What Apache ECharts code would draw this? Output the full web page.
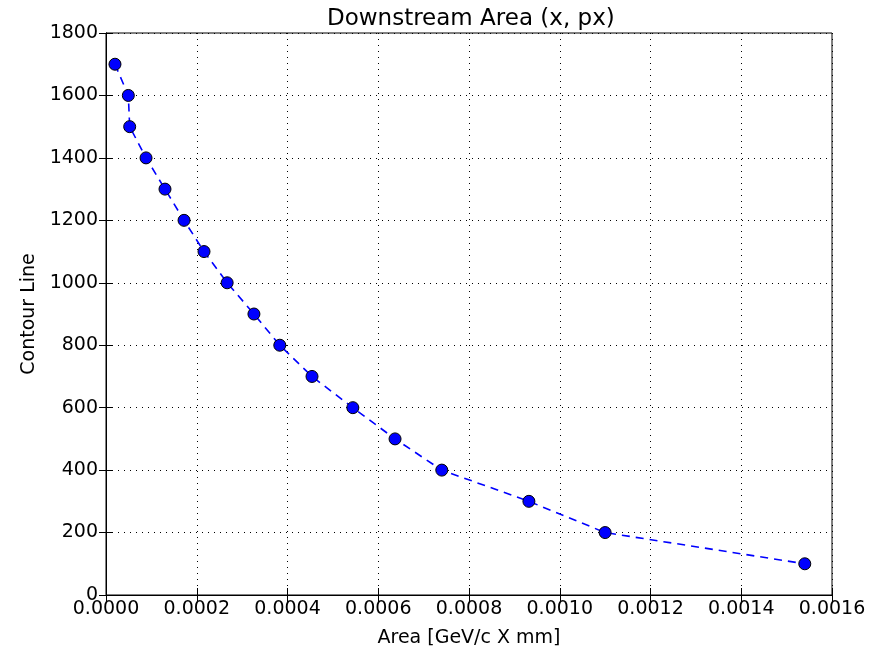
<!DOCTYPE html>
<html lang="en">
<head>
    <meta charset="UTF-8"/>
    <title>Downstream Area (x, px)</title>
    <script src="https://cdn.jsdelivr.net/npm/echarts@6/dist/echarts.min.js"></script>
    <style>
        html, body { margin: 0; padding: 0; background: #fff; }
        #main { width: 889px; height: 651px; }
    </style>
</head>
<body>
<div id="main"></div>
<script type="text/javascript">
    // data
    var areaX = [0.0000198, 0.0000492, 0.0000522, 0.0000882, 0.000130, 0.000172, 0.000216, 0.000267,
                 0.000326, 0.000383, 0.000454, 0.000544, 0.000637, 0.000740, 0.000932, 0.00110, 0.00154];
    var contour = [1700, 1600, 1500, 1400, 1300, 1200, 1100, 1000, 900, 800, 700, 600, 500, 400, 300, 200, 100];

    var points = [];
    for (var i = 0; i < areaX.length; i++) {
        points.push([areaX[i], contour[i]]);
    }

    var font = 'DejaVu Sans';
    var gridLine = { show: true, lineStyle: { color: '#000', type: [1, 5], width: 1 } };

    var chart = echarts.init(document.getElementById('main'));
    chart.setOption({
        animation: false,
        textStyle: { fontFamily: font },
        title: {
            text: 'Downstream Area (x, px)',
            left: 322,
            top: 3,
            textStyle: { fontFamily: font, fontSize: 23, fontWeight: 'normal', color: '#000' }
        },
        grid: {
            left: 106, right: 57, top: 33, bottom: 56,
            outerBoundsMode: 'none',
            containLabel: false,
            show: true, borderColor: '#000', borderWidth: 1
        },
        xAxis: [{
            type: 'value',
            min: 0, max: 0.0016, interval: 0.0002,
            name: 'Area [GeV/c X mm]',
            nameLocation: 'middle',
            nameGap: 34,
            nameTextStyle: { fontFamily: font, fontSize: 19, color: '#000' },
            axisLine: { show: true, lineStyle: { color: '#000' } },
            axisTick: { inside: true, length: 7, lineStyle: { color: '#000' } },
            axisLabel: { fontFamily: font, fontSize: 19, color: '#000', margin: 5,
                formatter: function (v) { return v.toFixed(4); } },
            splitLine: gridLine
        }, {
            type: 'value', position: 'top',
            min: 0, max: 0.0016, interval: 0.0002,
            axisLine: { show: true, lineStyle: { color: '#000' } },
            axisTick: { inside: true, length: 7, lineStyle: { color: '#000' } },
            axisLabel: { show: false },
            splitLine: { show: false }
        }],
        yAxis: [{
            type: 'value',
            min: 0, max: 1800, interval: 200,
            name: 'Contour Line',
            nameLocation: 'middle',
            nameGap: 59,
            nameTextStyle: { fontFamily: font, fontSize: 19, color: '#000' },
            axisLine: { show: true, lineStyle: { color: '#000' } },
            axisTick: { inside: true, length: 7, lineStyle: { color: '#000' } },
            axisLabel: { fontFamily: font, fontSize: 19, color: '#000', margin: 8,
                formatter: function (v) { return String(v); } },
            splitLine: gridLine
        }, {
            type: 'value', position: 'right',
            min: 0, max: 1800, interval: 200,
            axisLine: { show: true, lineStyle: { color: '#000' } },
            axisTick: { inside: true, length: 7, lineStyle: { color: '#000' } },
            axisLabel: { show: false },
            splitLine: { show: false }
        }],
        series: [{
            type: 'line',
            data: points,
            symbol: 'circle',
            symbolSize: 12,
            itemStyle: { color: '#0000ff', borderColor: '#000', borderWidth: 1 },
            lineStyle: { color: '#0000ff', type: [8, 6], width: 1.6 },
            z: 5
        }]
    });
</script>
</body>
</html>
